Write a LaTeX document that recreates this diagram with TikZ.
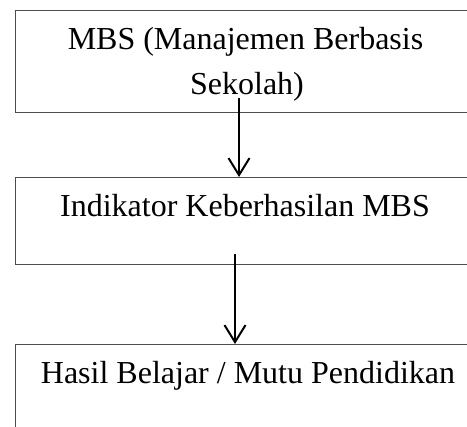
\documentclass[tikz,border=0pt]{standalone}
\usepackage{fontspec}
\setmainfont{Liberation Serif}
\usetikzlibrary{arrows.meta}
\begin{document}
\begin{tikzpicture}[x=1pt,y=1pt,
  box/.style={draw=black!70,line width=1pt,rectangle,inner sep=0pt,anchor=north west},
  lbl/.style={font=\fontsize{32}{38}\selectfont,inner sep=0pt,anchor=base},
  flow/.style={draw=black,line width=2pt,-{Straight Barb[length=17pt,width=21pt,line width=2pt]}}]
\useasboundingbox (0,0) rectangle (467,427);
\clip (0,0) rectangle (467,427);
% boxes
\node[box,minimum width=470pt,minimum height=102pt] (b1) at (15,417) {};
\node[box,minimum width=470pt,minimum height=87pt] (b2) at (15,250) {};
\node[box,minimum width=470pt,minimum height=120pt] (b3) at (15,83) {};
% texts
\node[lbl] (t1a) at (245.5,377) {MBS (Manajemen Berbasis};
\node[lbl] (t1b) at (247,332) {Sekolah)};
\node[lbl] (t2) at (245,210) {Indikator Keberhasilan MBS};
\node[lbl] (t3) at (248,43) {Hasil Belajar / Mutu Pendidikan};
% connectors
\coordinate (s1) at (239,329);
\coordinate (s2) at (235,173);
\draw[flow] (s1) -- (s1 |- b2.north);
\draw[flow] (s2) -- (s2 |- b3.north);
\end{tikzpicture}
\end{document}
